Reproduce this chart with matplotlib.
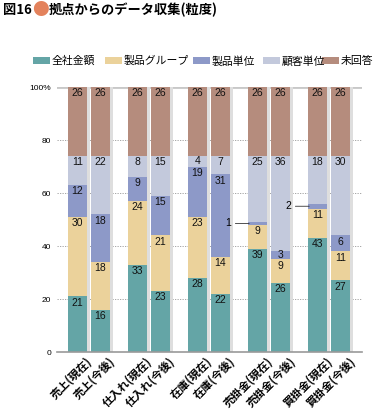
import matplotlib
matplotlib.use('Agg')
import matplotlib.pyplot as plt
from matplotlib.patches import Rectangle
import numpy as np

plt.rcParams['font.family'] = ['Noto Sans CJK JP', 'DejaVu Sans']

# data
groups = ['売上', '仕入れ', '在庫', '売掛金', '買掛金']
periods = ['(現在)', '(今後)']
series = ['全社金額', '製品グループ', '製品単位', '顧客単位', '未回答']
colors = ['#64a5a6', '#ebd29b', '#8d99c8', '#c3c9dc', '#b58c7d']
values = np.array([
    [21, 30, 12, 11, 26],
    [16, 18, 18, 22, 26],
    [33, 24, 9, 8, 26],
    [23, 21, 15, 15, 26],
    [28, 23, 19, 4, 26],
    [22, 14, 31, 7, 26],
    [39, 9, 1, 25, 26],
    [26, 9, 3, 36, 26],
    [43, 11, 2, 18, 26],
    [27, 11, 6, 30, 26],
])
yticks = [0, 20, 40, 60, 80, 100]
ytick_labels = ['0', '20', '40', '60', '80', '100%']

W, H = 383, 411
fig = plt.figure(figsize=(W / 100, H / 100), dpi=100)
ax = fig.add_axes([57 / W, 59 / H, 305 / W, 265 / H])

width = 19 / 60
off = 11.5 / 60
shadow = 3 / 60
xs = []
for i in range(len(groups)):
    xs += [i - off, i + off]
xs = np.array(xs)
labels = [g + p for g in groups for p in periods]

num_font = ['Liberation Sans', 'DejaVu Sans']

for k, x in enumerate(xs):
    ax.add_patch(Rectangle((x - width / 2 + shadow, 0), width, 100,
                           color='#dedede', zorder=1, lw=0))
    bottom = 0
    for s in range(len(series)):
        v = values[k, s]
        ax.bar(x, v, width, bottom=bottom, color=colors[s], zorder=2, lw=0)
        top = bottom + v
        if v >= 3:
            ax.text(x, top - min(2.4, v / 2), str(v), ha='center', va='center',
                    fontsize=7.5, family=num_font, color='#111111', zorder=3)
        elif v > 0:
            mid = bottom + v / 2
            ax.annotate(str(v), xy=(x - width / 2 + 0.02, mid),
                        xytext=(x - width / 2 - 0.28, mid),
                        ha='right', va='center', fontsize=7.5, family=num_font,
                        arrowprops=dict(arrowstyle='-', color='#333333', lw=0.6,
                                        shrinkA=1, shrinkB=0),
                        zorder=3, annotation_clip=False)
        bottom = top

ax.set_xlim(-32 / 60, 273 / 60)
ax.set_ylim(0, 100)
ax.set_yticks(yticks)
ax.set_yticklabels(ytick_labels, fontsize=6, family=num_font)
ax.tick_params(axis='y', length=0, pad=4)
for y in yticks[1:-1]:
    ax.axhline(y, color='#999999', lw=0.6, ls=(0, (1.5, 1.5)), zorder=0)
ax.axhline(100, color='#c8c8c8', lw=2, zorder=0.5)
for side in ['top', 'right', 'left']:
    ax.spines[side].set_visible(False)
ax.spines['bottom'].set_color('#999999')
ax.spines['bottom'].set_linewidth(1.2)

ax.set_xticks(xs + width / 2 - 0.02)
ax.set_xticklabels(labels, rotation=45, ha='right', va='top',
                   rotation_mode='anchor', fontsize=8, fontweight='bold')
ax.tick_params(axis='x', length=0, pad=2)

# title in three pieces so the circle can be orange
ty = 1 - 10 / H
t1 = fig.text(3 / W, ty, '図16', fontsize=9.5, fontweight='bold',
              va='center', ha='left')
fig.canvas.draw()
x1 = t1.get_window_extent().x1 / W
t2 = fig.text(x1, ty, '●', fontsize=12, va='center', ha='left',
              color='#e3825c')
fig.canvas.draw()
x2 = t2.get_window_extent().x1 / W
fig.text(x2, ty, '拠点からのデータ収集(粒度)', fontsize=9.5,
         fontweight='bold', va='center', ha='left')

# legend
leg_x = [33, 105, 193, 263, 322]
ly = H - 61
for lx, name, c in zip(leg_x, series, colors):
    fig.patches.append(Rectangle((lx / W, (ly - 3.5) / H), 17 / W, 7 / H,
                                 color=c, lw=0, transform=fig.transFigure))
    fig.text((lx + 19) / W, ly / H, name, fontsize=7.8, va='center', ha='left')

fig.savefig('out.png', dpi=100)
